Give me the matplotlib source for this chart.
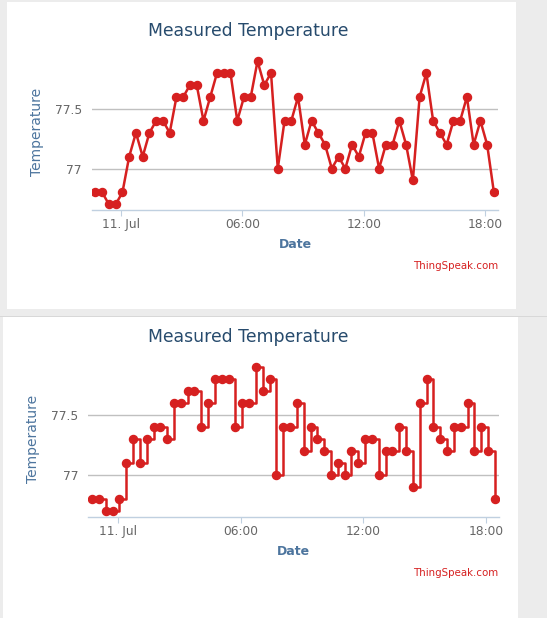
import matplotlib
matplotlib.use("Agg")
import matplotlib.pyplot as plt
import matplotlib.patches as mpatches
import pandas as pd

# ---------------------------------------------------------------- data ---- #

times = [
    "2014-07-10 22:45", "2014-07-10 23:05", "2014-07-10 23:25", "2014-07-10 23:45",
    "2014-07-11 00:05", "2014-07-11 00:25", "2014-07-11 00:45", "2014-07-11 01:05",
    "2014-07-11 01:25", "2014-07-11 01:45", "2014-07-11 02:05", "2014-07-11 02:25",
    "2014-07-11 02:45", "2014-07-11 03:05", "2014-07-11 03:25", "2014-07-11 03:45",
    "2014-07-11 04:05", "2014-07-11 04:25", "2014-07-11 04:45", "2014-07-11 05:05",
    "2014-07-11 05:25", "2014-07-11 05:45", "2014-07-11 06:05", "2014-07-11 06:25",
    "2014-07-11 06:45", "2014-07-11 07:05", "2014-07-11 07:25", "2014-07-11 07:45",
    "2014-07-11 08:05", "2014-07-11 08:25", "2014-07-11 08:45", "2014-07-11 09:05",
    "2014-07-11 09:25", "2014-07-11 09:45", "2014-07-11 10:05", "2014-07-11 10:25",
    "2014-07-11 10:45", "2014-07-11 11:05", "2014-07-11 11:25", "2014-07-11 11:45",
    "2014-07-11 12:05", "2014-07-11 12:25", "2014-07-11 12:45", "2014-07-11 13:05",
    "2014-07-11 13:25", "2014-07-11 13:45", "2014-07-11 14:05", "2014-07-11 14:25",
    "2014-07-11 14:45", "2014-07-11 15:05", "2014-07-11 15:25", "2014-07-11 15:45",
    "2014-07-11 16:05", "2014-07-11 16:25", "2014-07-11 16:45", "2014-07-11 17:05",
    "2014-07-11 17:25", "2014-07-11 17:45", "2014-07-11 18:05", "2014-07-11 18:25",
]

temperature = [
    76.8, 76.8, 76.7, 76.7, 76.8, 77.1, 77.3, 77.1, 77.3, 77.4,
    77.4, 77.3, 77.6, 77.6, 77.7, 77.7, 77.4, 77.6, 77.8, 77.8,
    77.8, 77.4, 77.6, 77.6, 77.9, 77.7, 77.8, 77.0, 77.4, 77.4,
    77.6, 77.2, 77.4, 77.3, 77.2, 77.0, 77.1, 77.0, 77.2, 77.1,
    77.3, 77.3, 77.0, 77.2, 77.2, 77.4, 77.2, 76.9, 77.6, 77.8,
    77.4, 77.3, 77.2, 77.4, 77.4, 77.6, 77.2, 77.4, 77.2, 76.8,
]

tick_times = ["2014-07-11 00:00", "2014-07-11 06:00", "2014-07-11 12:00", "2014-07-11 18:00"]
tick_labels = ["11. Jul", "06:00", "12:00", "18:00"]
y_ticks = [77, 77.5]
y_labels = ["77", "77.5"]

# --------------------------------------------------------------- style ---- #

W, H = 547, 618
RED = "#d62020"
TITLE = "#274b6d"
AXTITLE = "#4d759e"
LABEL = "#666666"

x = pd.to_datetime(times)
xt = pd.to_datetime(tick_times)
xlim = (pd.Timestamp("2014-07-10 22:34"), pd.Timestamp("2014-07-11 18:38"))
ylim = (76.65, 77.96)

fig = plt.figure(figsize=(W / 100, H / 100), dpi=100)
fig.patch.set_facecolor("#ececec")


def px_rect(x0, y0, x1, y1, **kw):
    # rectangle in pixel coords (top-left origin)
    return mpatches.Rectangle((x0 / W, 1 - y1 / H), (x1 - x0) / W, (y1 - y0) / H,
                              transform=fig.transFigure, zorder=-10, **kw)


fig.patches.append(px_rect(7, 2, 516, 309, facecolor="white", edgecolor="none"))
fig.patches.append(px_rect(0, 315.5, W, 316.5, facecolor="#d8d8d8", edgecolor="none"))
fig.patches.append(px_rect(3, 317, 518, H, facecolor="white", edgecolor="none"))


def make_panel(left, right, top, bottom, step, title_y, credit_y):
    ax = fig.add_axes([left / W, 1 - bottom / H, (right - left) / W, (bottom - top) / H])
    ax.set_facecolor("none")
    if step:
        ax.step(x, temperature, where="post", color=RED, lw=1.8, zorder=3)
        ax.plot(x, temperature, ls="none", marker="o", ms=5.8, color=RED, zorder=4)
    else:
        ax.plot(x, temperature, color=RED, lw=1.8, marker="o", ms=5.8, zorder=3)

    ax.set_xlim(*xlim)
    ax.set_ylim(*ylim)
    ax.set_xticks(xt)
    ax.set_xticklabels(tick_labels)
    ax.set_yticks(y_ticks)
    ax.set_yticklabels(y_labels)
    ax.grid(axis="y", color="#c0c0c0", lw=1)
    ax.set_axisbelow(True)
    for s in ["top", "right", "left"]:
        ax.spines[s].set_visible(False)
    ax.spines["bottom"].set_color("#c0d0e0")
    ax.spines["bottom"].set_linewidth(1)
    ax.tick_params(axis="x", length=4, color="#c0d0e0", labelsize=8.8,
                   labelcolor=LABEL, pad=1.5)
    ax.tick_params(axis="y", length=0, labelsize=8.8, labelcolor=LABEL, pad=7)

    ax.set_xlabel("Date", fontsize=9, fontweight="bold", color=AXTITLE, labelpad=5)
    ax.set_ylabel("Temperature", fontsize=10, color=AXTITLE, labelpad=8)

    fig.text(248 / W, 1 - title_y / H, "Measured Temperature", ha="center",
             va="center", fontsize=12.4, color=TITLE)
    fig.text(498 / W, 1 - credit_y / H, "ThingSpeak.com", ha="right",
             va="center", fontsize=7.4, color=RED)
    return ax


make_panel(91.7, 498.3, 54, 210.3, False, 31, 266)
make_panel(88.3, 499.3, 360, 517, True, 337, 573)

fig.savefig("out.png", dpi=100, facecolor=fig.get_facecolor())
